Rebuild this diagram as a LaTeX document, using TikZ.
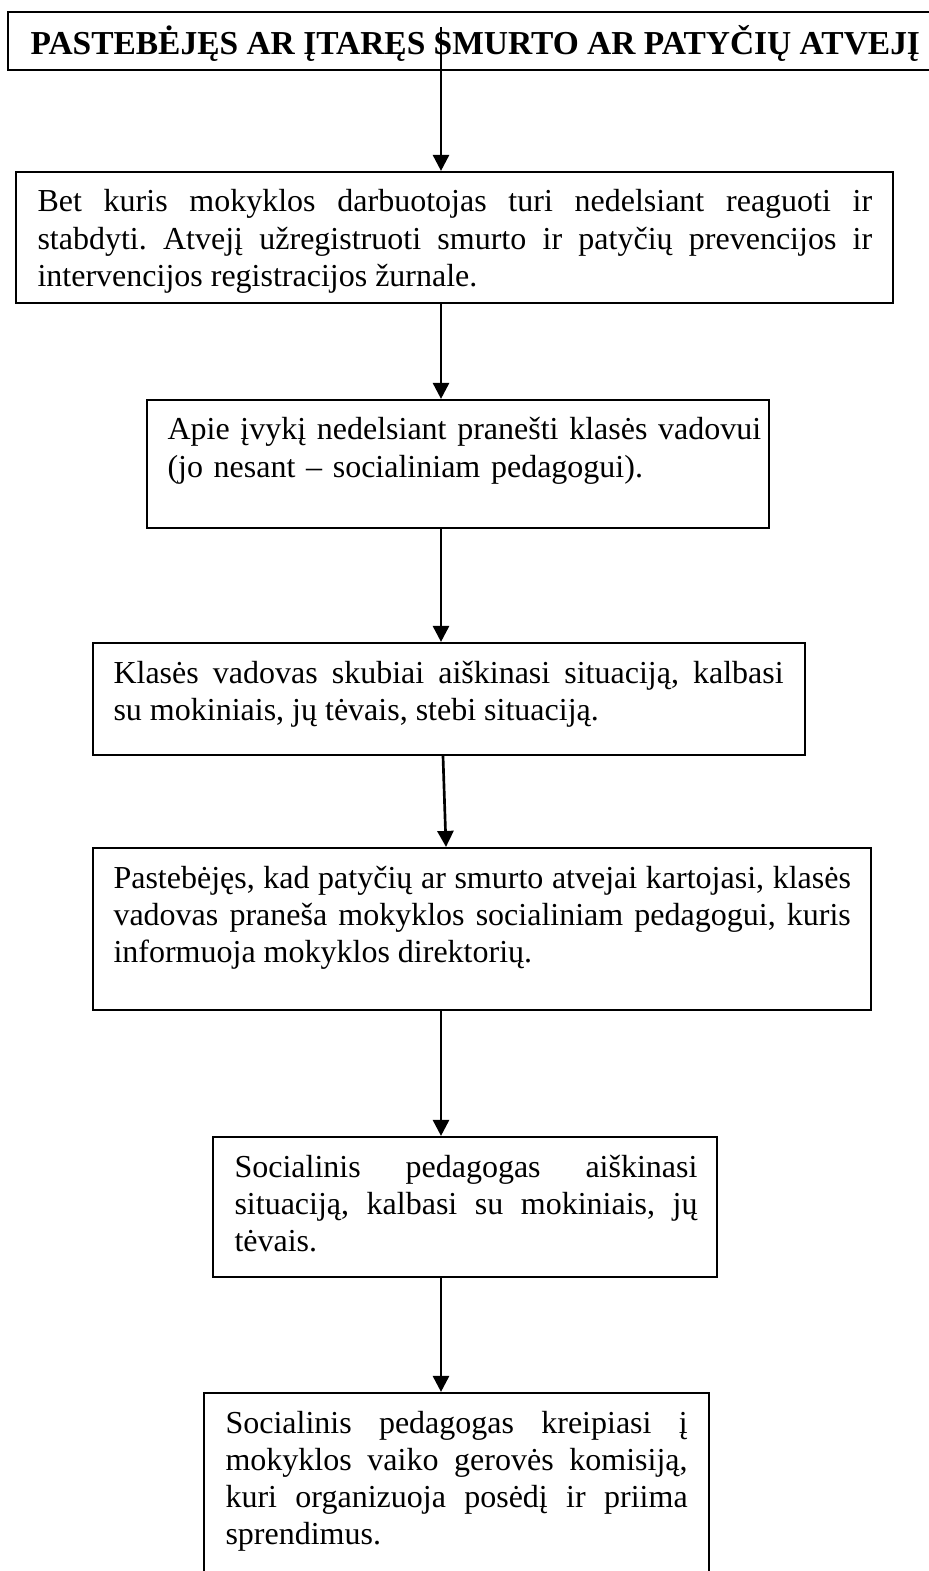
\documentclass[tikz,border=0pt]{standalone}
\usepackage{fontspec}
\setmainfont{Liberation Serif}
\usetikzlibrary{arrows.meta,calc,fit}
\hyphenpenalty=10000
\exhyphenpenalty=10000
\tolerance=10000
\frenchspacing

\begin{document}
\begin{tikzpicture}[x=0.375pt, y=-0.375pt,
        box/.style={draw, line width=0.8pt, inner sep=0pt},
        txt/.style={anchor=base west, inner sep=0pt, align=justify, font=\fontsize{12pt}{13.9pt}\selectfont},
        flow/.style={line width=1pt, -{Triangle[length=6pt,width=6pt]}}]
    \useasboundingbox (0,0) rectangle (928,1571);

    % boxes - corners, in pixels (y grows downwards)
    \node[box, fit={(8,12) (940,70)}] (title) {};            % runs off the right edge
    \node[box, fit={(16,172) (893,303)}] (react) {};
    \node[box, fit={(147,400) (769,528)}] (notify) {};
    \node[box, fit={(93,643) (805,755)}] (clarify) {};
    \node[box, fit={(93,848) (871,1010)}] (repeat) {};
    \node[box, fit={(213,1137) (717,1277)}] (social) {};
    \node[box, fit={(204,1393) (709,1590)}] (commission) {}; % runs off the bottom

    % texts - first baseline 40px below the top of each box
    \node[anchor=base west, inner sep=0pt, font=\fontsize{12.55pt}{14pt}\selectfont\bfseries] (titletext) at (30,55) {PASTEBĖJĘS AR ĮTARĘS SMURTO AR PATYČIŲ ATVEJĮ};
    \node[txt, text width=313pt] (reacttext) at (37,212) {Bet kuris mokyklos darbuotojas turi nedelsiant reaguoti ir\linebreak stabdyti. Atvejį užregistruoti smurto ir patyčių prevencijos ir\linebreak intervencijos registracijos žurnale.};
    \node[txt, text width=225pt, align=left] (notifytext) at (167,440) {Apie įvykį nedelsiant pranešti klasės vadovui\\(jo nesant – socialiniam pedagogui).};
    \node[txt, text width=251.3pt] (clarifytext) at (113,683) {Klasės vadovas skubiai aiškinasi situaciją, kalbasi\linebreak su mokiniais, jų tėvais, stebi situaciją.};
    \node[txt, text width=276.5pt] (repeattext) at (113,888) {Pastebėjęs, kad patyčių ar smurto atvejai kartojasi, klasės\linebreak vadovas praneša mokyklos socialiniam pedagogui, kuris\linebreak informuoja mokyklos direktorių.};
    \node[txt, text width=173.6pt] (socialtext) at (234,1177) {Socialinis pedagogas aiškinasi\linebreak situaciją, kalbasi su mokiniais, jų\linebreak tėvais.};
    \node[txt, text width=173.3pt] (commissiontext) at (225,1433) {Socialinis pedagogas kreipiasi į\linebreak mokyklos vaiko gerovės komisiją,\linebreak kuri organizuoja posėdį ir priima\linebreak sprendimus.};

    % arrows - all on one vertical line that starts inside the title box
    \coordinate (start) at (441,27);
    \draw[flow] (start) -- (start |- react.north);
    \draw[flow] (react.south -| start) -- (notify.north -| start);
    \draw[flow] (notify.south -| start) -- (clarify.north -| start);
    \draw[flow] ($(clarify.south -| start)+(2,0)$) -- ($(repeat.north -| start)+(5,0)$); % this one leans a little
    \draw[flow] (repeat.south -| start) -- (social.north -| start);
    \draw[flow] (social.south -| start) -- (commission.north -| start);
\end{tikzpicture}
\end{document}
